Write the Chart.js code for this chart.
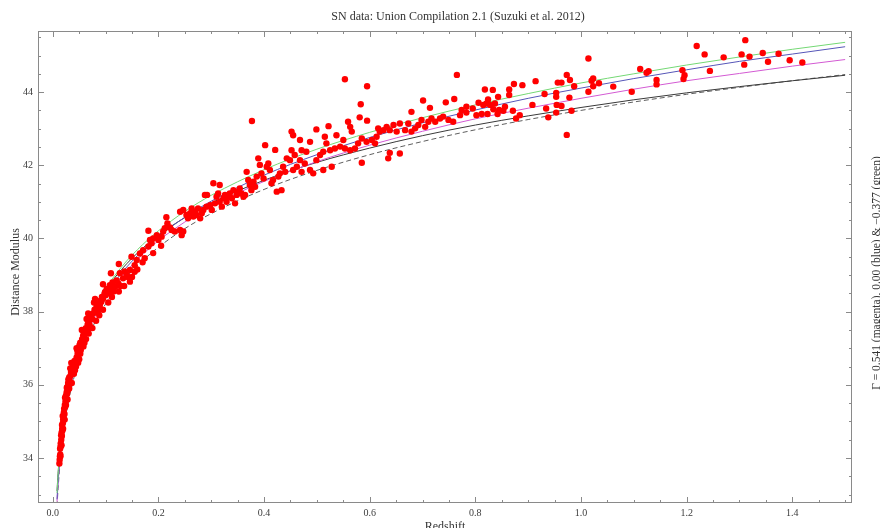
<!DOCTYPE html>
<html>
<head>
<meta charset="utf-8">
<title>SN data: Union Compilation 2.1</title>
<script src="https://cdn.jsdelivr.net/npm/chart.js@4.4.1/dist/chart.umd.min.js"></script>
<style>
    html, body { margin: 0; padding: 0; background: #fff; }
    #wrap { width: 880px; height: 528px; }
</style>
</head>
<body>
<div id="wrap"><canvas id="snChart" width="880" height="528"></canvas></div>
<script>
// Supernovae: redshift and distance modulus (same order in both arrays)
const snRedshift = [
    // z < 0.1
    0.0125,0.0130,0.0135,0.0141,0.0138,0.0146,0.0150,0.0155,0.0160,0.0158,
    0.0167,0.0172,0.0178,0.0183,0.0175,0.0190,0.0196,0.0188,0.0205,0.0210,
    0.0215,0.0222,0.0228,0.0235,0.0240,0.0232,0.0248,0.0255,0.0262,0.0270,
    0.0265,0.0278,0.0285,0.0290,0.0300,0.0295,0.0310,0.0320,0.0335,0.0345,
    0.0360,0.0375,0.0380,0.0395,0.0410,0.0430,0.0450,0.0470,0.0462,0.0490,
    0.0505,0.0520,0.0540,0.0555,0.0575,0.0590,0.0610,0.0625,0.0650,0.0660,
    0.0680,0.0700,0.0725,0.0745,0.0760,0.0790,0.0810,0.0830,0.0860,0.0880,
    0.0900,0.0930,0.0950,0.0980,0.1000,0.1020,
    0.0145,0.0165,0.0195,0.0225,0.0250,0.0280,0.0310,0.0330,0.0420,0.0440,
    0.0480,0.0500,0.0530,0.0600,0.0640,0.0720,0.0780,0.0850,
    0.036,0.040,0.052,0.058,0.063,0.068,0.075,0.082,0.088,0.095,
    0.105,0.112,0.035,0.045,0.055,0.067,0.080,0.095,0.110,0.125,
    // 0.09 - 0.16
    0.092,0.089,0.140,0.133,0.127,0.124,0.118,0.111,0.105,0.099,
    0.146,0.155,0.146,0.108,0.115,0.121,0.128,0.136,0.142,0.113,
    0.150,0.160,0.170,0.190,0.205,0.125,0.135,
    // 0.15 - 0.45
    0.149,0.155,0.159,0.165,0.171,0.174,0.181,0.184,0.187,0.181,
    0.190,0.197,0.200,0.206,0.209,0.215,0.217,0.212,0.222,0.225,
    0.231,0.241,0.244,0.247,0.241,0.247,0.253,0.256,0.260,0.263,
    0.266,0.269,0.272,0.275,0.279,0.282,0.285,0.291,0.298,0.301,
    0.304,0.307,0.310,0.313,0.316,0.320,0.323,0.326,0.329,0.332,
    0.335,0.339,0.342,0.345,0.348,0.351,0.354,0.357,0.361,0.364,
    0.367,0.370,0.373,0.376,0.380,0.383,0.386,0.389,0.392,0.395,
    0.399,0.402,0.405,0.408,0.411,0.414,0.417,0.421,0.424,0.427,
    0.430,0.433,0.436,0.440,0.443,0.288,0.316,0.292,0.377,0.449,
    // 0.45 - 0.77
    0.455,0.452,0.458,0.471,0.480,0.468,0.477,0.462,0.455,0.471,
    0.487,0.493,0.512,0.528,0.499,0.506,0.512,0.525,0.534,0.544,
    0.553,0.563,0.572,0.578,0.585,0.594,0.604,0.610,0.613,0.619,
    0.616,0.626,0.632,0.638,0.645,0.651,0.657,0.667,0.673,0.679,
    0.686,0.692,0.698,0.705,0.711,0.717,0.724,0.733,0.739,0.749,
    0.758,0.771,0.522,0.499,0.515,0.518,0.563,0.566,0.559,0.583,
    0.581,0.595,0.595,0.553,0.701,0.714,0.744,0.760,0.765,0.679,
    0.635,0.638,0.657,0.585,0.550,0.537,0.487,0.468,0.452,
    // 0.77 - 1.12
    0.774,0.783,0.783,0.795,0.802,0.806,0.812,0.815,0.818,0.821,
    0.823,0.824,0.828,0.833,0.834,0.837,0.842,0.843,0.845,0.853,
    0.856,0.864,0.864,0.871,0.873,0.877,0.884,0.889,0.908,0.914,
    0.931,0.934,0.938,0.953,0.953,0.954,0.956,0.953,0.963,0.963,
    0.973,0.973,0.978,0.979,0.982,0.987,1.014,1.014,1.020,1.023,
    1.023,1.034,1.061,1.096,1.112,
    // > 1.12
    1.124,1.128,1.143,1.143,1.192,1.196,1.194,1.219,1.234,1.244,
    1.270,1.304,1.309,1.311,1.319,1.344,1.354,1.374,1.395,1.419
];
const snDistMod = [
    33.85,33.95,34.05,34.10,34.25,34.30,34.40,34.35,34.50,34.62,
    34.70,34.60,34.80,34.75,34.90,34.95,35.05,35.15,35.10,35.25,
    35.35,35.20,35.45,35.40,35.55,35.65,35.70,35.62,35.80,35.75,
    35.92,35.95,35.85,36.05,36.00,36.15,36.20,36.10,36.25,36.35,
    36.45,36.40,36.55,36.50,36.65,36.62,36.75,36.85,36.95,37.00,
    37.08,37.15,37.12,37.25,37.35,37.30,37.45,37.55,37.50,37.65,
    37.72,37.62,37.85,37.80,37.95,38.05,37.98,38.15,38.22,38.12,
    38.30,38.40,38.35,38.50,38.45,38.62,
    34.05,34.35,34.80,35.05,35.45,35.60,35.90,36.45,36.40,36.50,
    36.60,36.70,36.95,37.15,37.80,37.55,38.25,38.00,
    36.05,36.30,36.85,37.05,37.25,37.40,37.55,37.75,37.90,38.05,
    38.25,38.40,36.60,37.00,37.50,37.95,38.35,38.75,39.05,39.30,
    38.27,38.18,39.00,38.91,39.05,38.77,38.68,38.59,38.50,38.54,
    38.82,39.09,39.14,38.72,38.55,38.85,38.70,39.10,38.95,38.80,
    38.95,39.15,39.35,39.60,39.80,38.55,38.70,
    39.50,39.27,39.41,39.59,39.68,39.46,39.78,39.96,39.87,40.21,
    40.00,40.09,39.96,40.05,40.19,40.58,40.41,40.28,40.30,40.23,
    40.19,40.23,40.09,40.19,40.73,40.78,40.64,40.55,40.69,40.82,
    40.60,40.73,40.64,40.82,40.55,40.69,40.78,40.87,40.91,40.78,
    41.51,40.96,41.14,41.23,41.00,40.87,41.10,41.19,41.00,41.14,
    41.23,41.10,41.32,40.96,41.19,41.28,41.37,41.23,41.14,41.19,
    41.82,41.60,41.46,41.32,41.55,41.41,41.69,42.19,42.01,41.78,
    41.64,42.55,41.96,42.05,41.87,41.51,41.60,42.42,41.28,41.69,
    41.78,41.32,41.96,41.82,42.19,41.19,41.46,41.19,43.21,42.14,
    42.82,42.41,42.28,42.41,42.37,42.14,42.05,41.96,41.87,41.82,
    41.87,41.78,41.87,41.96,42.14,42.28,42.37,42.41,42.46,42.51,
    42.46,42.41,42.46,42.60,42.73,42.64,42.69,42.60,42.78,42.92,
    43.01,42.96,43.05,42.96,43.10,42.92,43.14,42.96,43.14,42.92,
    43.01,43.10,43.24,43.05,43.19,43.28,43.19,43.28,43.33,43.24,
    43.19,43.37,43.07,42.98,42.78,42.60,43.05,42.92,43.19,43.67,
    43.31,43.22,44.16,44.35,43.77,43.57,43.72,43.81,44.47,43.46,
    42.19,42.34,42.32,42.07,42.69,42.82,42.64,42.69,42.92,
    43.51,43.60,43.44,43.55,43.37,43.71,43.40,43.65,44.07,43.69,
    43.40,43.80,43.65,44.06,43.53,43.69,43.40,43.87,43.51,43.49,
    43.60,43.92,44.07,43.49,44.22,43.28,43.37,44.19,43.65,44.30,
    43.95,43.55,43.31,43.98,43.87,43.65,44.26,43.44,44.26,43.62,
    44.47,42.83,43.85,44.33,43.49,44.16,44.92,44.01,44.31,44.37,
    44.16,44.24,44.15,44.01,44.63,
    44.53,44.57,44.33,44.21,44.60,44.46,44.36,45.26,45.03,44.58,
    44.95,45.03,44.75,45.42,44.97,45.07,44.83,45.05,44.87,44.81
];

// Model curves, read at these redshifts
const modelZ = [0.008, 0.01, 0.015, 0.02, 0.03, 0.04, 0.05, 0.07, 0.1, 0.13, 0.17, 0.2, 0.25,
    0.3, 0.4, 0.5, 0.6, 0.7, 0.8, 0.9, 1.0, 1.1, 1.2, 1.3, 1.4, 1.5];
const greenMu = [33.04, 33.53, 34.41, 35.04, 35.93, 36.57, 37.06, 37.81, 38.62, 39.22, 39.83, 40.21, 40.74,
    41.18, 41.88, 42.44, 42.90, 43.30, 43.65, 43.96, 44.25, 44.50, 44.74, 44.96, 45.17, 45.36];
const blueMu = [32.87, 33.36, 34.24, 34.87, 35.76, 36.40, 36.89, 37.64, 38.45, 39.05, 39.67, 40.05, 40.58,
    41.02, 41.73, 42.29, 42.76, 43.16, 43.51, 43.83, 44.11, 44.37, 44.61, 44.84, 45.04, 45.24];
const magentaMu = [32.81, 33.30, 34.18, 34.81, 35.70, 36.33, 36.82, 37.57, 38.36, 38.95, 39.56, 39.94, 40.45,
    40.88, 41.56, 42.10, 42.55, 42.93, 43.27, 43.56, 43.83, 44.08, 44.31, 44.51, 44.71, 44.89];
const blackMu = [33.10, 33.58, 34.46, 35.09, 35.97, 36.59, 37.08, 37.81, 38.58, 39.15, 39.73, 40.09, 40.57,
    40.97, 41.59, 42.08, 42.47, 42.81, 43.10, 43.35, 43.58, 43.79, 43.98, 44.15, 44.31, 44.46];
const dashedMu = [32.68, 33.16, 34.05, 34.67, 35.56, 36.19, 36.68, 37.42, 38.21, 38.79, 39.39, 39.76, 40.27,
    40.68, 41.34, 41.86, 42.29, 42.65, 42.97, 43.25, 43.50, 43.73, 43.94, 44.13, 44.31, 44.48];

const xTickValues = [0, 0.2, 0.4, 0.6, 0.8, 1.0, 1.2, 1.4];
const yTickValues = [34, 36, 38, 40, 42, 44];

const titleText = 'SN data: Union Compilation 2.1 (Suzuki et al. 2012)';
const xTitle = 'Redshift';
const yTitle = 'Distance Modulus';
const sideNote = 'Γ = 0.541 (magenta), 0.00 (blue) & −0.377 (green)';

const SERIF = '"Liberation Serif", "DejaVu Serif", serif';

const toPoints = (xs, ys) => xs.map((x, i) => ({ x, y: ys[i] }));

const curve = (values, color, dash) => ({
    data: toPoints(modelZ, values),
    showLine: true,
    borderColor: color,
    borderWidth: 1,
    borderDash: dash || [],
    pointRadius: 0,
    cubicInterpolationMode: 'monotone',
    fill: false
});

// Mathematica-style frame with inward ticks on all four sides
const frameTicks = {
    id: 'frameTicks',
    afterDatasetsDraw(chart) {
        const { ctx, chartArea: a, scales: { x, y } } = chart;
        ctx.save();
        ctx.strokeStyle = '#8a8a8a';
        ctx.lineWidth = 1;
        ctx.strokeRect(a.left + 0.5, a.top + 0.5, a.right - a.left - 1, a.bottom - a.top - 1);

        ctx.beginPath();
        for (let i = 0; i <= 30; i++) {
            const v = i * 0.05;
            const px = Math.round(x.getPixelForValue(v)) + 0.5;
            const len = i % 4 === 0 ? 6 : 3;
            ctx.moveTo(px, a.bottom); ctx.lineTo(px, a.bottom - len);
            ctx.moveTo(px, a.top); ctx.lineTo(px, a.top + len);
        }
        for (let i = 0; i <= 25; i++) {
            const v = 33 + i * 0.5;
            const py = Math.round(y.getPixelForValue(v)) + 0.5;
            const len = v % 2 === 0 ? 6 : 3;
            ctx.moveTo(a.left, py); ctx.lineTo(a.left + len, py);
            ctx.moveTo(a.right, py); ctx.lineTo(a.right - len, py);
        }
        ctx.stroke();
        ctx.restore();
    }
};

const labels = {
    id: 'labels',
    afterDraw(chart) {
        const { ctx, chartArea: a } = chart;
        ctx.save();
        ctx.fillStyle = '#333';
        ctx.font = '12px ' + SERIF;
        ctx.textAlign = 'center';
        ctx.textBaseline = 'middle';
        ctx.fillText(titleText, 458, 17);
        ctx.fillText(xTitle, (a.left + a.right) / 2, 527);

        ctx.translate(16, (a.top + a.bottom) / 2 + 5);
        ctx.rotate(-Math.PI / 2);
        ctx.fillText(yTitle, 0, 0);
        ctx.restore();

        ctx.save();
        ctx.fillStyle = '#333';
        ctx.font = '11.5px ' + SERIF;
        ctx.textAlign = 'center';
        ctx.textBaseline = 'middle';
        ctx.translate(877, 273);
        ctx.rotate(-Math.PI / 2);
        ctx.fillText(sideNote, 0, 0);
        ctx.restore();
    }
};

const tickFont = { family: SERIF, size: 10 };

new Chart(document.getElementById('snChart').getContext('2d'), {
    type: 'scatter',
    data: {
        datasets: [
            {
                data: toPoints(snRedshift, snDistMod),
                backgroundColor: '#ff0000',
                borderColor: '#ff0000',
                borderWidth: 0,
                pointRadius: 3.2
            },
            curve(greenMu, '#74d874'),
            curve(blueMu, '#5656b8'),
            curve(magentaMu, '#d35ad3'),
            curve(blackMu, '#3a3a3a'),
            curve(dashedMu, '#5e5e5e', [5, 3])
        ]
    },
    options: {
        responsive: false,
        animation: false,
        devicePixelRatio: 1,
        layout: { padding: { top: 31, right: 28, left: 0, bottom: 0 } },
        plugins: { legend: { display: false }, tooltip: { enabled: false } },
        scales: {
            x: {
                type: 'linear',
                min: -0.028,
                max: 1.513,
                grid: { display: false, drawTicks: false },
                border: { display: false },
                afterBuildTicks: (s) => { s.ticks = xTickValues.map(v => ({ value: v })); },
                afterFit: (s) => { s.height = 25; },
                ticks: {
                    padding: 4,
                    maxRotation: 0,
                    autoSkip: false,
                    color: '#3c3c3c',
                    font: tickFont,
                    callback: (v) => Number(v).toFixed(1)
                }
            },
            y: {
                type: 'linear',
                min: 32.77,
                max: 45.67,
                grid: { display: false, drawTicks: false },
                border: { display: false },
                afterBuildTicks: (s) => { s.ticks = yTickValues.map(v => ({ value: v })); },
                afterFit: (s) => { s.width = 38; },
                ticks: {
                    padding: 5,
                    autoSkip: false,
                    color: '#3c3c3c',
                    font: tickFont,
                    callback: (v) => String(v)
                }
            }
        }
    },
    plugins: [frameTicks, labels]
});
</script>
</body>
</html>
